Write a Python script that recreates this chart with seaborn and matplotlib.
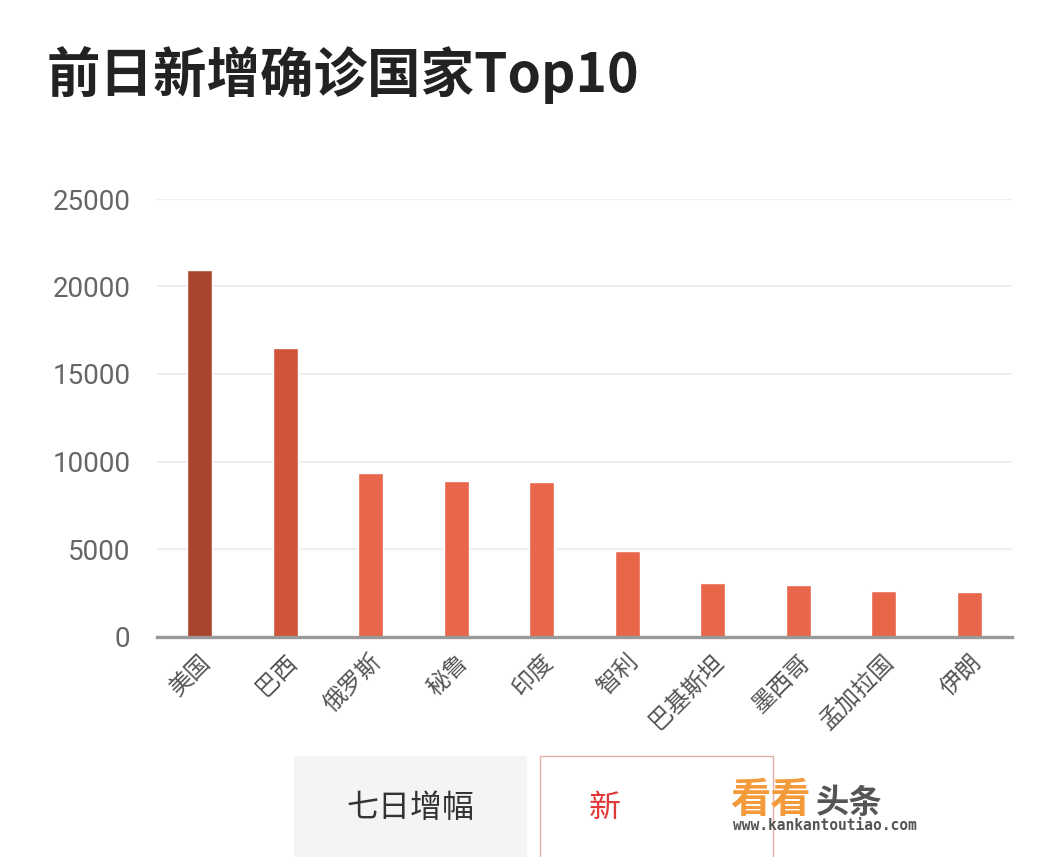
import matplotlib
matplotlib.use("Agg")
import matplotlib.pyplot as plt
import seaborn as sns
import pandas as pd
from matplotlib.patches import Rectangle

countries = ["美国", "巴西", "俄罗斯", "秘鲁", "印度", "智利", "巴基斯坦", "墨西哥", "孟加拉国", "伊朗"]
new_cases = [20950, 16470, 9340, 8890, 8840, 4890, 3080, 2930, 2590, 2560]
bar_colors = ["#A9452F", "#D05439"] + ["#E8674A"] * 8
y_ticks = [0, 5000, 10000, 15000, 20000, 25000]
title = "前日新增确诊国家Top10"
tab_left = "七日增幅"
tab_right = "新"

sns.set_theme(style="white")
plt.rcParams["font.family"] = ["Noto Sans CJK SC", "DejaVu Sans"]

df = pd.DataFrame({"country": countries, "value": new_cases})

fig = plt.figure(figsize=(10.55, 8.57), dpi=100)
W, H = 1055, 857
ax = fig.add_axes([157 / W, 1 - 636.5 / H, (1012 - 157) / W, (636.5 - 199) / H])

sns.barplot(data=df, x="country", y="value", hue="country", palette=bar_colors,
            legend=False, width=0.29, ax=ax, saturation=1)

ax.set_xlim(-0.5, 9.5)
ax.set_ylim(0, 25000)
ax.set_yticks(y_ticks)
ax.set_yticklabels([str(v) for v in y_ticks], fontsize=20, color="#666666",
                   family=["Roboto", "DejaVu Sans"])
ax.set_xlabel("")
ax.set_ylabel("")
ax.yaxis.grid(True, color="#EFEFEF", linewidth=1.6)
ax.set_axisbelow(True)
for s in ["top", "right", "left"]:
    ax.spines[s].set_visible(False)
ax.spines["bottom"].set_color("#9A9A9A")
ax.spines["bottom"].set_linewidth(2.4)
ax.tick_params(axis="y", length=0, pad=19)
ax.tick_params(axis="x", length=0, pad=10)
ax.set_xticks(range(len(countries)))
ax.set_xticklabels(countries, rotation=45, ha="right", rotation_mode="anchor",
                   fontsize=17, color="#555555", fontweight="light")

fig.text(47 / W, 1 - 75 / H, title, fontsize=38.5, fontweight="bold", color="#222222",
         ha="left", va="center")

# bottom tabs
fig.patches.append(Rectangle((294 / W, 0), (527 - 294) / W, (857 - 756) / H,
                             transform=fig.transFigure, facecolor="#F3F4F6", edgecolor="none"))
fig.patches.append(Rectangle((540 / W, -0.01), (773 - 540) / W, (857 - 756) / H + 0.01,
                             transform=fig.transFigure, facecolor="white", edgecolor="#E2B0A8",
                             linewidth=1))
fig.text(410 / W, 1 - 808 / H, tab_left, fontsize=23, color="#333333", ha="center", va="center")
fig.text(589 / W, 1 - 808 / H, tab_right, fontsize=23, color="#E0393A", ha="left", va="center")

# watermark
fig.text(730 / W, 1 - 800 / H, "看看", fontsize=29, fontweight="bold", color="#F39A3A",
         ha="left", va="center")
fig.text(816 / W, 1 - 803 / H, "头条", fontsize=24, fontweight="bold", color="#555555",
         ha="left", va="center")
fig.text(733 / W, 1 - 825 / H, "www.kankantoutiao.com", fontsize=10.5, color="#555555",
         ha="left", va="center", family="DejaVu Sans Mono", fontweight="bold")

fig.savefig("out.png", dpi=100)
